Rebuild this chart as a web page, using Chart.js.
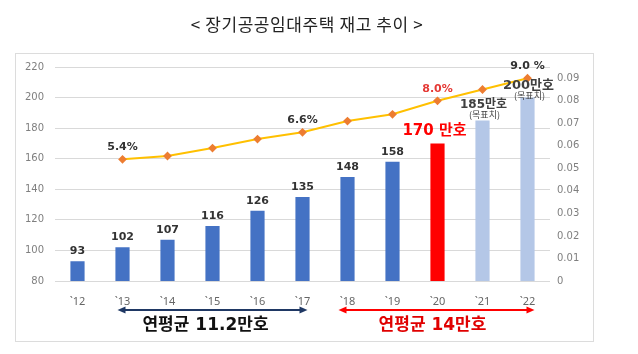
<!DOCTYPE html>
<html>
<head>
<meta charset="utf-8">
<script src="https://cdn.jsdelivr.net/npm/chart.js@4.4.1/dist/chart.umd.min.js"></script>
<style>
html, body { margin: 0; padding: 0; background: #fff; }
canvas { display: block; }
</style>
</head>
<body>
<canvas id="stockChart" width="638" height="354"></canvas>
<script>
// data
const years = ['`12', '`13', '`14', '`15', '`16', '`17', '`18', '`19', '`20', '`21', '`22'];
const stock = [93, 102, 107, 116, 126, 135, 148, 158, 170, 185, 200];
const share = [null, 0.054, 0.0555, 0.059, 0.063, 0.066, 0.071, 0.074, 0.080, 0.085, 0.090];
const stockLabels = ['93', '102', '107', '116', '126', '135', '148', '158', '170 만호', '185만호', '200만호'];
const shareLabels = [null, '5.4%', null, null, null, '6.6%', null, null, '8.0%', null, '9.0 %'];
const rightTicks = [0, 0.01, 0.02, 0.03, 0.04, 0.05, 0.06, 0.07, 0.08, 0.09];
const avgNotes = ['연평균 11.2만호', '연평균 14만호'];

const numFont = "'DejaVu Sans', 'Noto Sans CJK KR', sans-serif";
const krFont = "'Noto Sans CJK KR', sans-serif";

const barColors = stock.map((v, i) => i < 8 ? '#4472C4' : (i === 8 ? '#FF0000' : '#B4C7E7'));

function arrow(ctx, x1, x2, y, color) {
    ctx.save();
    ctx.strokeStyle = color;
    ctx.fillStyle = color;
    ctx.lineWidth = 2;
    ctx.beginPath();
    ctx.moveTo(x1 + 4, y);
    ctx.lineTo(x2 - 4, y);
    ctx.stroke();
    [[x1, 1], [x2, -1]].forEach(([x, d]) => {
        ctx.beginPath();
        ctx.moveTo(x, y);
        ctx.lineTo(x + d * 8, y - 3.5);
        ctx.lineTo(x + d * 8, y + 3.5);
        ctx.closePath();
        ctx.fill();
    });
    ctx.restore();
}

const decor = {
    id: 'decor',
    beforeDraw(chart) {
        const ctx = chart.ctx;
        ctx.save();
        ctx.fillStyle = '#fff';
        ctx.fillRect(0, 0, chart.width, chart.height);
        ctx.strokeStyle = '#dcdcdc';
        ctx.lineWidth = 1;
        ctx.strokeRect(15.5, 53.5, 578, 288);
        ctx.fillStyle = '#222';
        ctx.font = "17px " + krFont;
        ctx.letterSpacing = '0.6px';
        ctx.textAlign = 'center';
        ctx.textBaseline = 'middle';
        ctx.fillText('< 장기공공임대주택 재고 추이 >', 307, 25);
        ctx.restore();
    },
    afterDatasetsDraw(chart) {
        const ctx = chart.ctx;
        const bars = chart.getDatasetMeta(1).data;
        const pts = chart.getDatasetMeta(0).data;
        const x = chart.scales.x;
        ctx.save();
        ctx.textAlign = 'center';
        ctx.textBaseline = 'middle';

        // bar values
        bars.forEach((b, i) => {
            if (i < 8) {
                ctx.fillStyle = '#333';
                ctx.font = "bold 11px " + numFont;
                ctx.fillText(stockLabels[i], b.x, b.y - 10);
            } else if (i === 8) {
                ctx.fillStyle = '#FF0000';
                ctx.font = "bold 15px " + numFont;
                ctx.fillText(stockLabels[i], b.x - 3, b.y - 12);
            } else {
                const up = i === 9 ? 16 : 12;
                ctx.fillStyle = '#404040';
                ctx.font = (i === 9 ? "bold 12px " : "bold 13px ") + numFont;
                ctx.fillText(stockLabels[i], b.x + 1, b.y - up);
                ctx.font = "9px " + krFont;
                ctx.fillText('(목표치)', b.x + 2, b.y - up + 10);
            }
        });

        // share labels
        pts.forEach((p, i) => {
            if (!shareLabels[i]) return;
            ctx.fillStyle = i === 8 ? '#E53935' : '#333';
            ctx.font = "bold 11px " + numFont;
            ctx.fillText(shareLabels[i], p.x, p.y - 12);
        });

        // average arrows and notes
        const y = 310;
        const a1 = x.getPixelForValue(1) - 5, a2 = x.getPixelForValue(5) + 5;
        const b1 = x.getPixelForValue(6) - 9, b2 = x.getPixelForValue(10) + 7;
        arrow(ctx, a1, a2, y, '#1F3864');
        arrow(ctx, b1, b2, y, '#FF0000');
        ctx.font = "bold 17px " + numFont;
        ctx.fillStyle = '#111';
        ctx.fillText(avgNotes[0], (a1 + a2) / 2 - 7, 326);
        ctx.fillStyle = '#E00000';
        ctx.fillText(avgNotes[1], (b1 + b2) / 2 - 4, 326);
        ctx.restore();
    }
};

new Chart(document.getElementById('stockChart'), {
    data: {
        labels: years,
        datasets: [
            {
                type: 'line',
                data: share,
                yAxisID: 'y2',
                borderColor: '#FFC000',
                borderWidth: 2,
                pointStyle: 'rectRot',
                pointRadius: 3,
                pointBackgroundColor: '#ED7D31',
                pointBorderColor: '#ED7D31',
                tension: 0,
                spanGaps: false,
                order: 0
            },
            {
                type: 'bar',
                data: stock,
                yAxisID: 'y',
                backgroundColor: barColors,
                barPercentage: 0.315,
                categoryPercentage: 1,
                order: 1
            }
        ]
    },
    options: {
        responsive: false,
        animation: false,
        events: [],
        layout: { padding: { left: 15, right: 43, top: 67, bottom: 43 } },
        plugins: { legend: { display: false }, tooltip: { enabled: false } },
        scales: {
            x: {
                grid: { display: false },
                border: { display: false },
                ticks: { color: '#666', font: { family: "'Noto Sans', sans-serif", size: 11 }, padding: 6 },
                afterFit(s) { s.height = 30; }
            },
            y: {
                position: 'left',
                min: 80,
                max: 220,
                ticks: { stepSize: 20, color: '#7f7f7f', font: { family: numFont, size: 10 }, padding: 11 },
                grid: { color: '#d9d9d9', drawTicks: false },
                border: { display: false },
                afterFit(s) { s.width = 40; }
            },
            y2: {
                position: 'right',
                min: 0,
                max: 0.095,
                afterBuildTicks(s) { s.ticks = rightTicks.map(v => ({ value: v })); },
                ticks: {
                    color: '#7f7f7f',
                    font: { family: numFont, size: 10 },
                    padding: 7,
                    callback: v => String(v)
                },
                grid: { display: false, drawTicks: false },
                border: { display: false },
                afterFit(s) { s.width = 45; }
            }
        }
    },
    plugins: [decor]
});
</script>
</body>
</html>
